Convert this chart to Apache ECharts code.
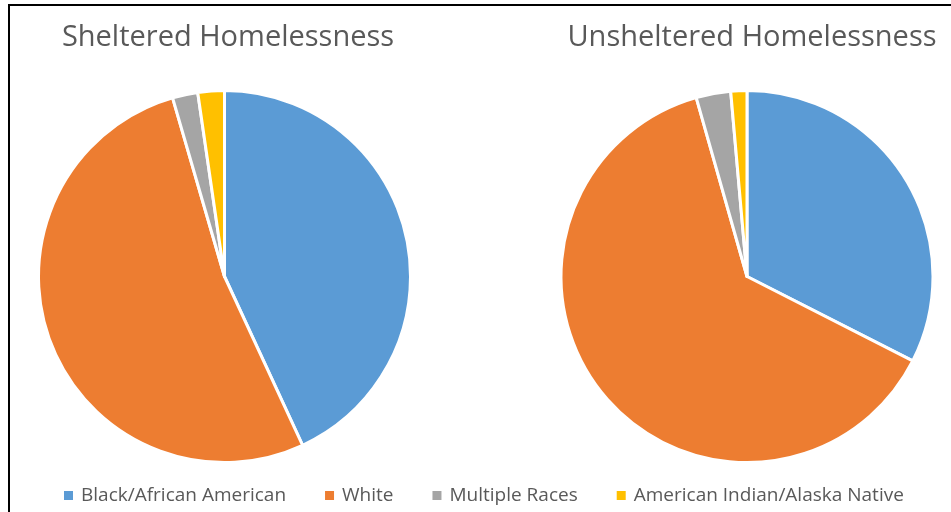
<!DOCTYPE html>
<html>
<head>
<meta charset="utf-8">
<script src="https://cdn.jsdelivr.net/npm/echarts@6/dist/echarts.min.js"></script>
<style>
  html, body { margin: 0; padding: 0; background: #fff; }
  #main { width: 951px; height: 512px; }
</style>
</head>
<body>
<div id="main"></div>
<script>
// 数据
const categories = ['Black/African American', 'White', 'Multiple Races', 'American Indian/Alaska Native']
const shelteredValues = [43.1, 52.4, 2.2, 2.3]
const unshelteredValues = [32.5, 63.1, 3.0, 1.4]
const chartTitles = ['Sheltered Homelessness', 'Unsheltered Homelessness']

const colors = ['#5B9BD5', '#ED7D31', '#A5A5A5', '#FFC000']
const textColor = '#595959'

const toData = vals => categories.map((name, i) => ({ name, value: vals[i] }))

const pieConf = {
  type: 'pie',
  radius: 186,
  startAngle: 90,
  clockwise: true,
  label: { show: false },
  labelLine: { show: false },
  emphasis: { disabled: true },
  itemStyle: { borderColor: '#fff', borderWidth: 3 },
  animation: false,
}

const titleStyle = { fontFamily: 'Open Sans', fontSize: 29, fontWeight: 'normal', color: textColor }

const chart = echarts.init(document.getElementById('main'))
chart.setOption({
  color: colors,
  animation: false,
  title: [
    { text: chartTitles[0], left: 223, top: 18, textAlign: 'center', textStyle: titleStyle },
    { text: chartTitles[1], left: 747, top: 18, textAlign: 'center', textStyle: titleStyle },
  ],
  legend: {
    data: categories,
    left: 57,
    top: 481,
    icon: 'rect',
    itemWidth: 11,
    itemHeight: 11,
    itemGap: 37,
    textStyle: { fontFamily: 'Open Sans', fontSize: 19, color: textColor, padding: [0, 0, 0, 2] },
  },
  graphic: [
    { type: 'rect', shape: { x: 9, y: 5, width: 1000, height: 600 },
      style: { fill: 'none', stroke: '#000', lineWidth: 2 }, silent: true },
  ],
  series: [
    Object.assign({}, pieConf, { name: chartTitles[0], center: [224.5, 276.5], data: toData(shelteredValues) }),
    Object.assign({}, pieConf, { name: chartTitles[1], center: [747, 276.5], data: toData(unshelteredValues) }),
  ],
})
</script>
</body>
</html>
